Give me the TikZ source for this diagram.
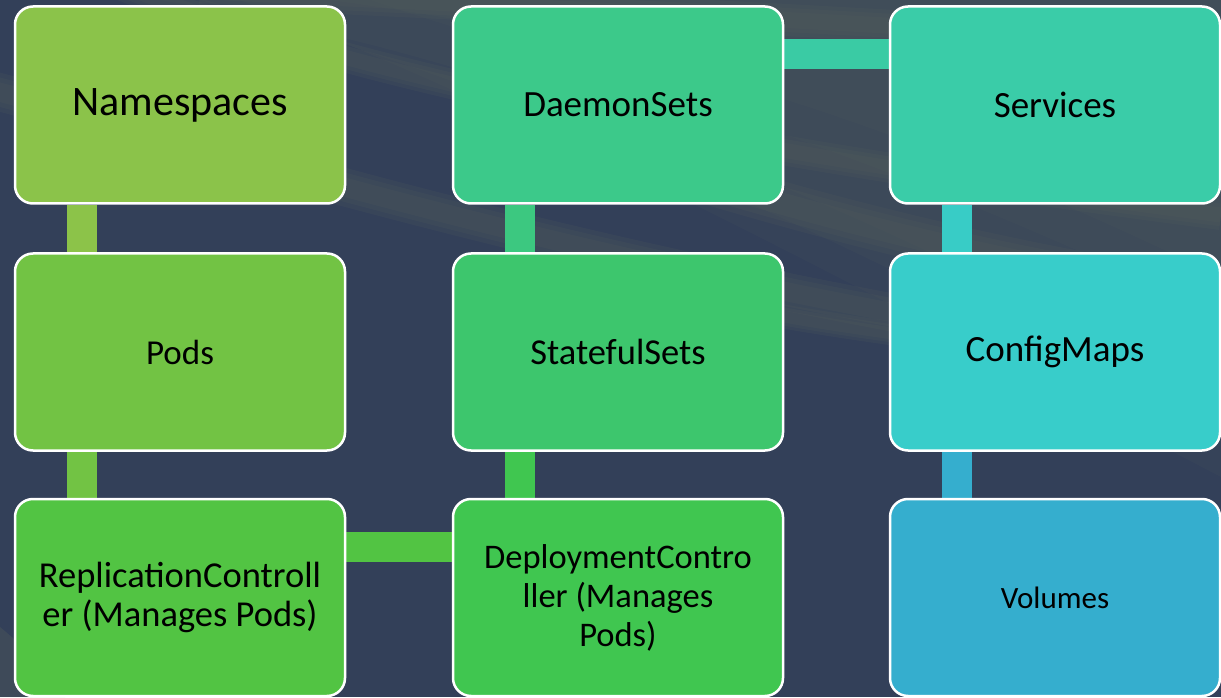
\documentclass[tikz,border=0pt]{standalone}
\usepackage{fontspec}
\setmainfont{Carlito}
\pgfdeclarelayer{backdrop}
\pgfdeclarelayer{links}
\pgfsetlayers{backdrop,links,main}

\definecolor{bgnavy}{HTML}{334059}
\definecolor{haze}{HTML}{5A6459}
\definecolor{cNs}{HTML}{8BC34A}
\definecolor{cPods}{HTML}{72C344}
\definecolor{cRc}{HTML}{52C443}
\definecolor{cDc}{HTML}{40C650}
\definecolor{cSts}{HTML}{3DC66D}
\definecolor{cDs}{HTML}{3CC98A}
\definecolor{cSvc}{HTML}{3ACCA8}
\definecolor{cCm}{HTML}{38CDCA}
\definecolor{cVol}{HTML}{35AECE}
\definecolor{lNsPods}{HTML}{8CC349}
\definecolor{lStsDs}{HTML}{3CC880}
\definecolor{lDsSvc}{HTML}{3ACBA4}
\definecolor{lSvcCm}{HTML}{38CCC6}

\tikzset{
  stage/.style={rectangle, rounded corners=18pt, draw=white, line width=2.5pt,
    minimum width=330pt, minimum height=197pt, align=center, text=black,
    inner sep=0pt},
  link/.style={line width=30pt},
}
\newcommand{\fs}[1]{\fontsize{#1}{39}\selectfont}
% a soft light stroke: three stacked strokes of shrinking width
\newcommand{\swoosh}[2]{%
  \foreach \k in {1,0.75,0.5}{\draw[haze, opacity=0.14, line width=\k*#1] #2;}}

\begin{document}
\begin{tikzpicture}[x=1pt, y=1pt]
\useasboundingbox (0,0) rectangle (1221,697);

% backdrop: navy with soft light swooshes
\begin{pgfonlayer}{backdrop}
  \fill[bgnavy] (0,0) rectangle (1221,697);
  \begin{scope}
    \clip (0,0) rectangle (1221,697);
    \foreach \o/\d in {0.10/0,0.10/40,0.10/80}{
      \fill[haze, opacity=\o] (160+\d,697) .. controls (500+\d,640-\d) and (800,520-\d) .. (1221,300-\d)
        -- (1221,697) -- cycle;}
    \foreach \o/\d in {0.09/0,0.09/40}{
      \fill[haze, opacity=\o] (330+\d,697) .. controls (600,660-\d) and (850,600-\d) .. (1221,420-\d)
        -- (1221,697) -- cycle;}
    \swoosh{30}{(120,712) .. controls (300,642) and (600,562) .. (1221,482)}
    \swoosh{38}{(-20,610) .. controls (250,540) and (600,420) .. (1221,330)}
    \swoosh{44}{(560,560) .. controls (750,500) and (950,440) .. (1221,400)}
    \swoosh{24}{(600,420) .. controls (750,380) and (950,350) .. (1221,330)}
    \swoosh{32}{(200,706) .. controls (500,690) and (800,680) .. (1221,650)}
    \fill[haze, opacity=0.30] (0,70) .. controls (30,45) and (55,20) .. (65,0) -- (0,0) -- cycle;
  \end{scope}
\end{pgfonlayer}

% stages, in flow order
\node[stage, fill=cNs,   font=\fs{42}] (ns)   at (180, 592)  {Namespaces};
\node[stage, fill=cPods, font=\fs{35}] (pods) at (180, 345)  {Pods};
\node[stage, fill=cRc,   font=\fs{36.5}] (rc) at (180, 99.5) {ReplicationControll\\er (Manages Pods)};
\node[stage, fill=cDc,   font=\fs{34.5}] (dc) at (618, 99.5) {DeploymentContro\\ller (Manages\\Pods)};
\node[stage, fill=cSts,  font=\fs{36.5}] (sts) at (618, 345) {StatefulSets};
\node[stage, fill=cDs,   font=\fs{37}] (ds)   at (618, 592)  {DaemonSets};
\node[stage, fill=cSvc,  font=\fs{37}] (svc)  at (1055, 592) {Services};
\node[stage, fill=cCm,   font=\fs{37}] (cm)   at (1055, 345) {ConfigMaps};
\node[stage, fill=cVol,  font=\fs{31}] (vol)  at (1055, 99.5) {Volumes};

% connecting bars behind the stages
\begin{pgfonlayer}{links}
  \draw[link, lNsPods] ([xshift=68pt]ns.south west)  -- ([xshift=68pt]pods.north west);
  \draw[link, cPods]   ([xshift=68pt]pods.south west) -- ([xshift=68pt]rc.north west);
  \draw[link, cRc]     ([yshift=-49pt]rc.north east) -- ([yshift=-49pt]dc.north west);
  \draw[link, cDc]     ([xshift=68pt]dc.north west)  -- ([xshift=68pt]sts.south west);
  \draw[link, lStsDs]  ([xshift=68pt]sts.north west) -- ([xshift=68pt]ds.south west);
  \draw[link, lDsSvc]  ([yshift=-49pt]ds.north east) -- ([yshift=-49pt]svc.north west);
  \draw[link, lSvcCm]  ([xshift=68pt]svc.south west) -- ([xshift=68pt]cm.north west);
  \draw[link, cVol]    ([xshift=68pt]cm.south west)  -- ([xshift=68pt]vol.north west);
\end{pgfonlayer}
\end{tikzpicture}
\end{document}
